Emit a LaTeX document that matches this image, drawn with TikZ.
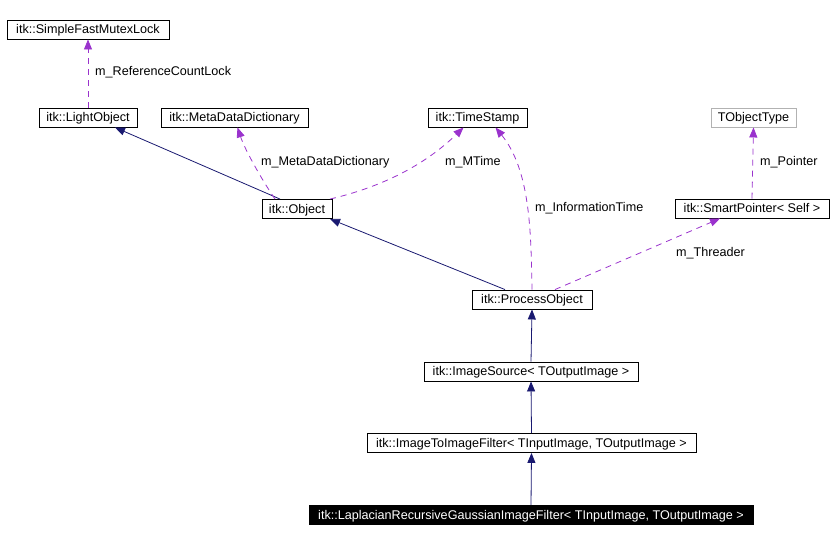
\documentclass[tikz,border=0pt]{standalone}
\usepackage{fontspec}
\setmainfont{Liberation Sans}
\usetikzlibrary{arrows.meta}
\definecolor{edgeblue}{HTML}{191970}
\definecolor{edgepurple}{HTML}{9A32CD}
\begin{document}
\begin{tikzpicture}[x=1pt,y=-1pt,
  cls/.style={draw=black, line width=0.9pt, inner sep=0pt, minimum height=19pt, text height=10.6pt, text depth=2pt, font=\fontsize{12.6}{15}\selectfont, text=black},
  ext/.style={cls, draw=gray!60},
  cur/.style={cls, fill=black, text=white},
  inh/.style={draw=edgeblue, line width=0.8pt, -{Triangle[length=10pt,width=8pt]}},
  use/.style={draw=edgepurple, line width=0.8pt, dash pattern=on 6pt off 5pt, -{Triangle[length=10pt,width=8pt]}},
  lab/.style={font=\fontsize{12.6}{15}\selectfont, inner sep=0pt, anchor=west}]
\useasboundingbox (0,0) rectangle (834,542);
\node[cls, minimum width=162pt] (sfml) at (88,29.5) {itk::SimpleFastMutexLock};
\node[cls, minimum width=98pt] (lo) at (88,117.5) {itk::LightObject};
\node[cls, minimum width=147pt] (mdd) at (234.5,117.5) {itk::MetaDataDictionary};
\node[cls, minimum width=99pt] (ts) at (477.5,117.5) {itk::TimeStamp};
\node[ext, minimum width=85pt] (tot) at (753.5,117.5) {TObjectType};
\node[cls, minimum width=70pt] (obj) at (297,209) {itk::Object};
\node[cls, minimum width=154pt] (sp) at (752,208.5) {itk::SmartPointer< Self >};
\node[cls, minimum width=120pt] (po) at (532,299.5) {itk::ProcessObject};
\node[cls, minimum width=214pt] (is) at (531,371.5) {itk::ImageSource< TOutputImage >};
\node[cls, minimum width=329pt] (itif) at (531.5,443) {itk::ImageToImageFilter< TInputImage, TOutputImage >};
\node[cur, minimum width=444pt] (lap) at (531,515) {itk::LaplacianRecursiveGaussianImageFilter< TInputImage, TOutputImage >};

\draw[use] (lo.north) -- (sfml.south);
\node[lab] (l1) at (95,72) {m\_ReferenceCountLock};
\draw[inh] ([xshift=-17pt]obj.north) -- ([xshift=27pt]lo.south);
\draw[use] ([xshift=-22pt]obj.north) .. controls (262,180) and (245,150) .. ([xshift=3pt]mdd.south);
\node[lab] (l2) at (261,162) {m\_MetaDataDictionary};
\draw[use] ([xshift=33pt]obj.north) .. controls (390,185) and (430,160) .. ([xshift=-14pt]ts.south);
\node[lab] (l3) at (445,162) {m\_MTime};
\draw[use] (po.north) .. controls (531,230) and (530,170) .. ([xshift=18pt]ts.south);
\node[lab] (l4) at (535,208) {m\_InformationTime};
\draw[inh] ([xshift=-27pt]po.north) -- ([xshift=33pt]obj.south);
\draw[use] ([xshift=23pt]po.north) -- ([xshift=-32pt]sp.south);
\node[lab] (l5) at (676,253) {m\_Threader};
\draw[use] (sp.north) -- (tot.south);
\node[lab] (l6) at (760,162) {m\_Pointer};
\draw[inh] (is.north) -- (po.south);
\draw[inh] (itif.north) -- (is.south);
\draw[inh] (lap.north) -- (itif.south);
\end{tikzpicture}
\end{document}
